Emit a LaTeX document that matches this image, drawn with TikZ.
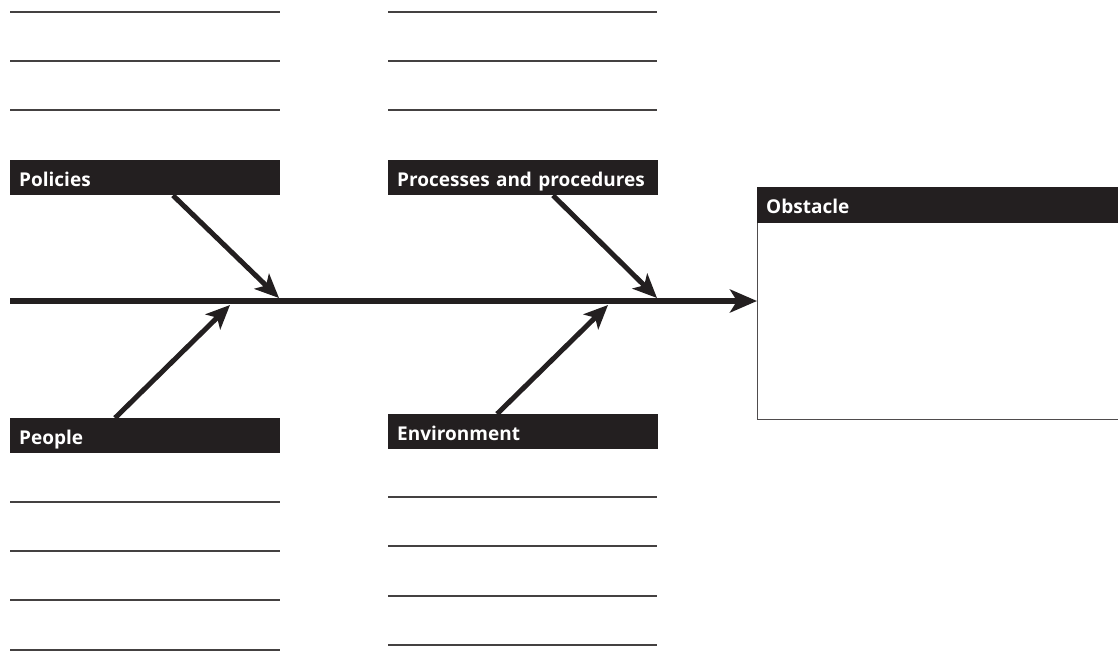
\documentclass[tikz,border=0pt]{standalone}
\usepackage{fontspec}
\setmainfont{Open Sans}
\usetikzlibrary{arrows.meta,calc}
\definecolor{ink}{HTML}{231F20}
\begin{document}
\begin{tikzpicture}[x=1pt,y=-1pt,
  catbox/.style={fill=ink,text=white,anchor=north west,inner xsep=9pt,inner ysep=4pt,
    minimum width=270pt,minimum height=35pt,text width=252pt,align=left,
    text height=22pt,text depth=5pt,font=\bfseries\fontsize{19}{21}\selectfont},
  rule/.style={draw=ink!85,line width=1.5pt},
  bone/.style={draw=ink,line width=5pt,-{Stealth[length=24pt,width=21pt,inset=6pt]}},
  spine/.style={draw=ink,line width=6pt,-{Stealth[length=27pt,width=23pt,inset=7pt]}}]
\useasboundingbox (0,0) rectangle (1118,651);

% writing lines above and below the category boxes
\foreach \y in {12,61,110} {
  \draw[rule] (10,\y) -- (280,\y);
  \draw[rule] (388,\y) -- (657,\y);
}
\foreach \y in {502,551,600,650} \draw[rule] (10,\y) -- (280,\y);
\foreach \y in {497,546,596,645} \draw[rule] (388,\y) -- (657,\y);

% category boxes
\node[catbox] (pol) at (10,160) {Policies};
\node[catbox] (proc) at (388,160) {Processes and procedures};
\node[catbox] (peo) at (10,418) {People};
\node[catbox] (env) at (388,414) {Environment};

% obstacle box with its header
\node[draw=ink!80,line width=1pt,anchor=north west,minimum width=362pt,minimum height=232pt,inner sep=0pt] (obst) at (757,187) {};
\node[catbox,minimum width=361pt,text width=343pt,minimum height=36pt] (obsthead) at (757,187) {Obstacle};

% spine and where the bones meet it
\coordinate (tail) at (10,301);
\coordinate (polhit) at (279,298);
\coordinate (prochit) at (657,298);
\coordinate (peohit) at (230,305);
\coordinate (envhit) at (608,305);
\draw[spine] (tail) -- (obst.west |- tail);

% bones
\draw[bone] ($(pol.south west)+(163,0)$) -- (polhit);
\draw[bone] ($(proc.south west)+(165,0)$) -- (prochit);
\draw[bone] ($(peo.north west)+(105,0)$) -- (peohit);
\draw[bone] ($(env.north west)+(109,0)$) -- (envhit);
\end{tikzpicture}
\end{document}
